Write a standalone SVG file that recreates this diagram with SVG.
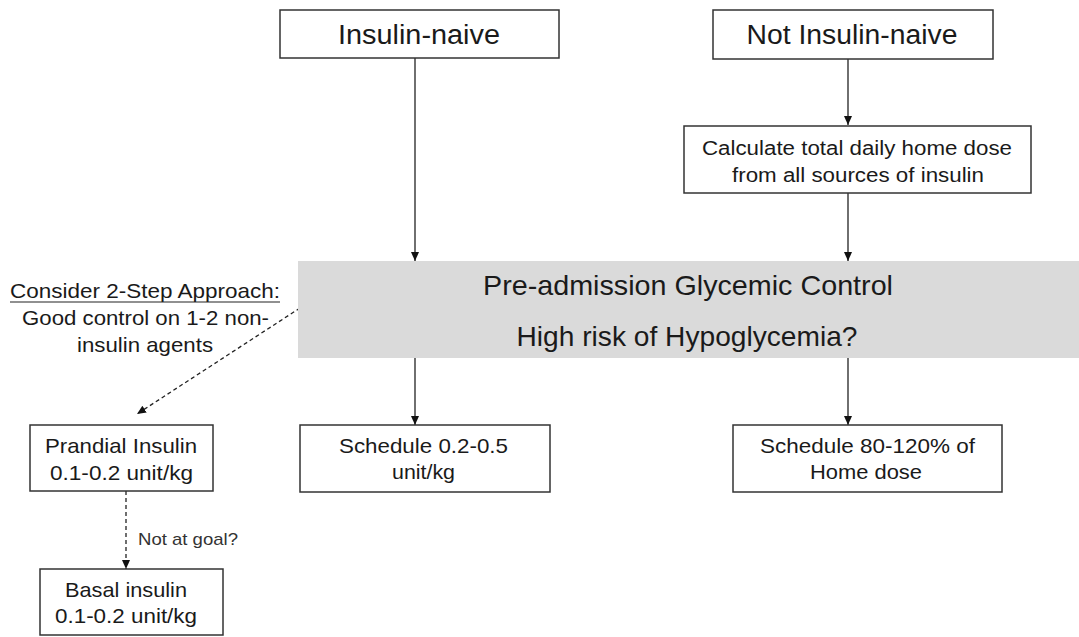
<svg xmlns="http://www.w3.org/2000/svg" width="1079" height="637" viewBox="0 0 1079 637">
<style>
.box{fill:#fff;stroke:#333;stroke-width:1.5}
.t{font-family:"Liberation Sans",Arial,sans-serif;fill:#1a1a1a;text-anchor:middle}
.ln{stroke:#222;stroke-width:1.3;fill:none}
.dash{stroke:#222;stroke-width:1.3;fill:none;stroke-dasharray:4,3}
</style>
<defs>
<marker id="ah" markerWidth="10" markerHeight="10" refX="9" refY="5" orient="auto" markerUnits="userSpaceOnUse">
<path d="M0,1 L9,5 L0,9 Z" fill="#111"/>
</marker>
</defs>
<rect width="1079" height="637" fill="#fff"/>
<g id="connectors">
<line class="ln" x1="415" y1="58" x2="415" y2="261" marker-end="url(#ah)"/>
<line class="ln" x1="848" y1="59" x2="848" y2="125" marker-end="url(#ah)"/>
<line class="ln" x1="848" y1="193" x2="848" y2="261" marker-end="url(#ah)"/>
<line class="ln" x1="415" y1="358" x2="415" y2="425" marker-end="url(#ah)"/>
<line class="ln" x1="848" y1="358" x2="848" y2="425" marker-end="url(#ah)"/>
<line class="dash" x1="300" y1="308" x2="137" y2="414" marker-end="url(#ah)"/>
<line class="dash" x1="126" y1="491" x2="126" y2="569" marker-end="url(#ah)"/>
<text x="138" y="545" font-family="Liberation Sans,Arial,sans-serif" font-size="17" fill="#333" textLength="100" lengthAdjust="spacingAndGlyphs">Not at goal?</text>
</g>
<g id="insulin-naive">
<rect class="box" x="280" y="10" width="279" height="48"/>
<text class="t" x="419" y="44" font-size="27" textLength="162" lengthAdjust="spacingAndGlyphs">Insulin-naive</text>
</g>
<g id="not-insulin-naive">
<rect class="box" x="713" y="10" width="280" height="49"/>
<text class="t" x="852" y="44" font-size="27" textLength="211" lengthAdjust="spacingAndGlyphs">Not Insulin-naive</text>
</g>
<g id="calculate">
<rect class="box" x="684" y="126" width="347" height="67"/>
<text class="t" x="857" y="155" font-size="20" textLength="310" lengthAdjust="spacingAndGlyphs">Calculate total daily home dose</text>
<text class="t" x="858" y="182" font-size="20" textLength="252" lengthAdjust="spacingAndGlyphs">from all sources of insulin</text>
</g>
<g id="glycemic">
<rect x="298" y="261" width="781" height="97" fill="#dadada"/>
<text class="t" x="688" y="295" font-size="28" textLength="410" lengthAdjust="spacingAndGlyphs">Pre-admission Glycemic Control</text>
<text class="t" x="687" y="346" font-size="28" textLength="341" lengthAdjust="spacingAndGlyphs">High risk of Hypoglycemia?</text>
</g>
<g id="consider">
<text class="t" x="145" y="298" font-size="21" textLength="270" lengthAdjust="spacingAndGlyphs">Consider 2-Step Approach:</text>
<line x1="10" y1="302" x2="280" y2="302" stroke="#222" stroke-width="1.2"/>
<text class="t" x="145.5" y="325" font-size="21" textLength="247" lengthAdjust="spacingAndGlyphs">Good control on 1-2 non-</text>
<text class="t" x="145" y="352" font-size="21" textLength="136" lengthAdjust="spacingAndGlyphs">insulin agents</text>
</g>
<g id="schedule-02">
<rect class="box" x="300" y="425" width="250" height="67"/>
<text class="t" x="423.5" y="453" font-size="21" textLength="169" lengthAdjust="spacingAndGlyphs">Schedule 0.2-0.5</text>
<text class="t" x="423.5" y="479" font-size="21" textLength="63" lengthAdjust="spacingAndGlyphs">unit/kg</text>
</g>
<g id="schedule-80">
<rect class="box" x="733" y="425" width="269" height="67"/>
<text class="t" x="867.5" y="453" font-size="21" textLength="215" lengthAdjust="spacingAndGlyphs">Schedule 80-120% of</text>
<text class="t" x="866" y="479" font-size="21" textLength="112" lengthAdjust="spacingAndGlyphs">Home dose</text>
</g>
<g id="prandial">
<rect class="box" x="30" y="425" width="183" height="66"/>
<text class="t" x="121" y="453" font-size="21" textLength="152" lengthAdjust="spacingAndGlyphs">Prandial Insulin</text>
<text class="t" x="121.5" y="480" font-size="21" textLength="143" lengthAdjust="spacingAndGlyphs">0.1-0.2 unit/kg</text>
</g>
<g id="basal">
<rect class="box" x="40" y="569" width="183" height="66"/>
<text class="t" x="126" y="597" font-size="21" textLength="122" lengthAdjust="spacingAndGlyphs">Basal insulin</text>
<text class="t" x="126" y="623" font-size="21" textLength="142" lengthAdjust="spacingAndGlyphs">0.1-0.2 unit/kg</text>
</g>
</svg>
